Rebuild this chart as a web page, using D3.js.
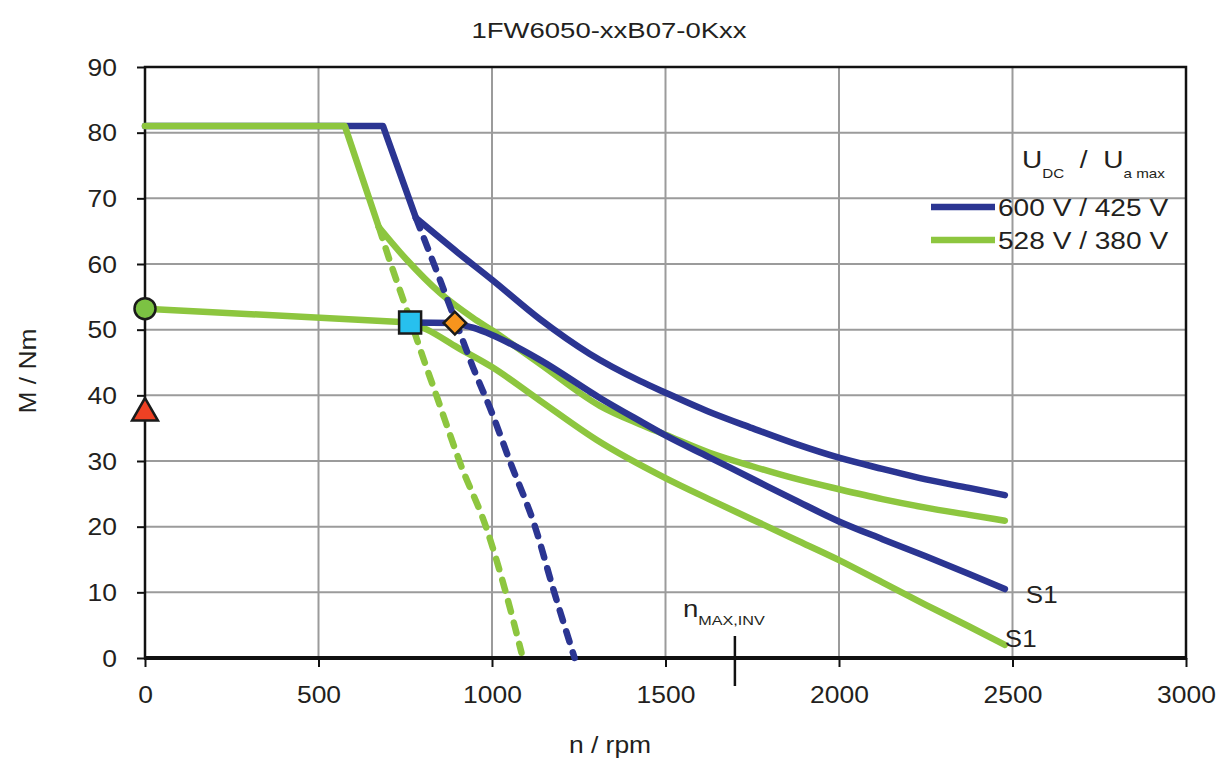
<!DOCTYPE html>
<html><head><meta charset="utf-8">
<script src="https://cdn.jsdelivr.net/npm/d3@7"></script>
<style>
body{margin:0;background:#fff}
svg text{font-family:"Liberation Sans",Arial,Helvetica,sans-serif;fill:#231f20}
</style>
</head><body>
<svg id="c" width="1219" height="760"></svg>
<script>
// ---------- data ----------
const title = "1FW6050-xxB07-0Kxx";
const xTicks = [0, 500, 1000, 1500, 2000, 2500, 3000];
const yTicks = [0, 10, 20, 30, 40, 50, 60, 70, 80, 90];
const xLabel = "n / rpm";
const yLabel = "M / Nm";
const legendLabels = ["600 V / 425 V", "528 V / 380 V"];
const nMaxInv = 1700;

// 600 V / 425 V : maximum torque (first 3 points: straight knee)
const blueMax = [[0,81],[686,81],[781,67],[900,61.8],[1000,57.6],[1138,51.6],[1282,46.3],[1426,42.2],[1500,40.4],[1625,37.5],[1750,35.0],[1875,32.6],[2000,30.5],[2125,28.8],[2250,27.2],[2375,25.9],[2478,24.8]];
// 600 V / 425 V : S1
const blueS1 = [[764,51.1],[893,51.0],[945,50.3],[1000,49.2],[1138,45.4],[1311,39.6],[1426,36.1],[1500,33.9],[1625,30.6],[1750,27.3],[1875,24.0],[2000,20.8],[2125,18.1],[2250,15.5],[2375,12.8],[2478,10.5]];
// 600 V / 425 V : dashed
const blueDash = [[781,67],[850,57.6],[900,50.6],[945,44.3],[1000,37.3],[1052,29.9],[1124,20.0],[1176,10.6],[1238,0]];

// 528 V / 380 V : maximum torque
const greenMax = [[0,81],[576,81],[674,65.6],[755,60.6],[850,55.6],[945,51.8],[1000,49.9],[1138,44.8],[1311,38.4],[1426,35.6],[1500,34.0],[1625,31.3],[1750,29.2],[1875,27.3],[2000,25.7],[2125,24.2],[2250,22.9],[2375,21.8],[2478,20.9]];
// 528 V / 380 V : S1
const greenS1 = [[0,53.2],[764,51.1],[813,50.0],[900,47.3],[1000,44.3],[1138,39.2],[1302,33.2],[1500,27.4],[1625,24.2],[1750,21.1],[1875,18.0],[2000,14.9],[2125,11.5],[2250,8.1],[2375,4.8],[2478,2.0]];
// 528 V / 380 V : dashed
const greenDash = [[674,65.6],[706,60.4],[740,55.2],[769,50.8],[801,45.8],[841,39.8],[879,34.0],[908,29.7],[985,19.6],[1037,10.5],[1085,0.8]];

// markers
const mCircle = [0, 53.2];
const mTriangle = [0, 37.3];
const mSquare = [764, 51.1];
const mDiamond = [893, 51.0];

// ---------- drawing ----------
const BLUE = "#2b3592", GREEN = "#8dc63f";
const svg = d3.select("#c");
const x = d3.scaleLinear().domain([0, 3000]).range([145, 1186]);
const y = d3.scaleLinear().domain([0, 90]).range([658, 67]);

// grid
svg.append("g").selectAll("line").data(xTicks.filter(v => v > 0 && v < 3000)).join("line")
  .attr("x1", d => x(d)).attr("x2", d => x(d)).attr("y1", y(0)).attr("y2", y(90))
  .attr("stroke", "#9b9b9b").attr("stroke-width", 2);
svg.append("g").selectAll("line").data(yTicks.filter(v => v > 0 && v < 90)).join("line")
  .attr("y1", d => y(d)).attr("y2", d => y(d)).attr("x1", x(0)).attr("x2", x(3000))
  .attr("stroke", "#9b9b9b").attr("stroke-width", 2);

// axes
const TS = 1.15;
const ax = svg.append("g").attr("transform", `translate(0,${y(0)})`)
  .call(d3.axisBottom(x).tickValues(xTicks).tickSize(9).tickSizeOuter(0).tickFormat(d3.format("d")));
const ay = svg.append("g").attr("transform", `translate(${x(0)},0)`)
  .call(d3.axisLeft(y).tickValues(yTicks).tickSize(8).tickSizeOuter(0).tickFormat(d3.format("d")));
[ax, ay].forEach(g => {
  g.attr("font-family", null).attr("font-size", null);
  g.select(".domain").remove();
  g.selectAll(".tick line").attr("stroke", "#111").attr("stroke-width", 2);
});
ax.selectAll(".tick text").attr("y", 45).attr("dy", 0).style("font-size", "23px")
  .attr("transform", `scale(${TS},1)`).attr("fill", "#231f20");
ay.selectAll(".tick text").attr("x", -28 / TS).attr("dy", "0.36em").style("font-size", "23px")
  .attr("transform", `scale(${TS},1)`).attr("fill", "#231f20");

// frame
svg.append("rect").attr("x", x(0)).attr("y", y(90)).attr("width", x(3000) - x(0)).attr("height", y(0) - y(90))
  .attr("fill", "none").attr("stroke", "#111").attr("stroke-width", 2.5);
svg.append("line").attr("x1", x(0) - 1).attr("x2", x(3000) + 1).attr("y1", y(0)).attr("y2", y(0))
  .attr("stroke", "#111").attr("stroke-width", 4);

// n max inv marker
svg.append("line").attr("x1", x(nMaxInv)).attr("x2", x(nMaxInv)).attr("y1", y(0) - 22).attr("y2", y(0) + 28)
  .attr("stroke", "#111").attr("stroke-width", 2.5);
const nt = svg.append("text").attr("transform", `translate(${x(nMaxInv) - 52},617) scale(1.2,1)`);
nt.append("tspan").style("font-size", "23px").text("n");
nt.append("tspan").style("font-size", "13.5px").attr("dy", 8).text("MAX,INV");

// curves: straight knee + smooth tail
const lineLin = d3.line().x(d => x(d[0])).y(d => y(d[1]));
const lineSmooth = d3.line().x(d => x(d[0])).y(d => y(d[1])).curve(d3.curveMonotoneX);
function addPath(data, gen, color, dashed) {
  svg.append("path").datum(data).attr("d", gen).attr("fill", "none")
    .attr("stroke", color).attr("stroke-width", 6.5)
    .attr("stroke-linejoin", "round").attr("stroke-linecap", "round")
    .attr("stroke-dasharray", dashed ? "11 11" : null);
}
function curve(data, color, knee) {
  if (knee > 0) addPath(data.slice(0, knee + 1), lineLin, color);
  addPath(data.slice(knee), lineSmooth, color);
}
curve(blueMax, BLUE, 2);
curve(greenMax, GREEN, 2);
curve(greenS1, GREEN, 1);
curve(blueS1, BLUE, 1);
addPath(greenDash, lineSmooth, GREEN, true);
addPath(blueDash, lineSmooth, BLUE, true);

// markers
svg.append("circle").attr("cx", x(mCircle[0])).attr("cy", y(mCircle[1])).attr("r", 10.5)
  .attr("fill", "#7cc243").attr("stroke", "#1a1a1a").attr("stroke-width", 2.5);
svg.append("path").attr("d", d3.symbol(d3.symbolTriangle, 290)())
  .attr("transform", `translate(${x(mTriangle[0])},${y(mTriangle[1])})`)
  .attr("fill", "#ee4124").attr("stroke", "#1a1a1a").attr("stroke-width", 2.5);
svg.append("path").attr("d", d3.symbol(d3.symbolSquare, 484)())
  .attr("transform", `translate(${x(mSquare[0])},${y(mSquare[1])})`)
  .attr("fill", "#27c0ee").attr("stroke", "#1a1a1a").attr("stroke-width", 2.5);
svg.append("path").attr("d", d3.symbol(d3.symbolSquare, 256)())
  .attr("transform", `translate(${x(mDiamond[0])},${y(mDiamond[1])}) rotate(45)`)
  .attr("fill", "#f7941d").attr("stroke", "#1a1a1a").attr("stroke-width", 2.5);

// S1 labels
svg.append("text").attr("transform", `translate(${x(2478) + 21},603) scale(1.08,1)`).style("font-size", "24px").text("S1");
svg.append("text").attr("transform", `translate(${x(2478)},647) scale(1.08,1)`).style("font-size", "24px").text("S1");

// legend
const LS = 1.17;
const lh = svg.append("text").attr("transform", `translate(1022,168) scale(${LS},1)`);
lh.append("tspan").style("font-size", "24px").text("U");
lh.append("tspan").style("font-size", "13px").attr("dy", 10).text("DC");
lh.append("tspan").style("font-size", "24px").attr("dy", -10).text("\u00A0\u00A0/\u00A0\u00A0");
lh.append("tspan").style("font-size", "24px").text("U");
lh.append("tspan").style("font-size", "13px").attr("dy", 10).text("a max");
[[BLUE, 207], [GREEN, 240]].forEach((c, i) => {
  svg.append("line").attr("x1", 931).attr("x2", 995).attr("y1", c[1]).attr("y2", c[1])
    .attr("stroke", c[0]).attr("stroke-width", 6.5);
  svg.append("text").attr("transform", `translate(998,${c[1] + 8.5}) scale(${LS},1)`)
    .style("font-size", "24px").text(legendLabels[i]);
});

// titles
svg.append("text").attr("transform", `translate(609,38) scale(1.25,1)`).attr("text-anchor", "middle")
  .style("font-size", "22px").text(title);
svg.append("text").attr("transform", `translate(610,753) scale(${TS},1)`).attr("text-anchor", "middle")
  .style("font-size", "23px").text(xLabel);
svg.append("text").attr("transform", `translate(36,371) rotate(-90) scale(${TS},1)`).attr("text-anchor", "middle")
  .style("font-size", "23px").text(yLabel);
</script>
</body></html>
